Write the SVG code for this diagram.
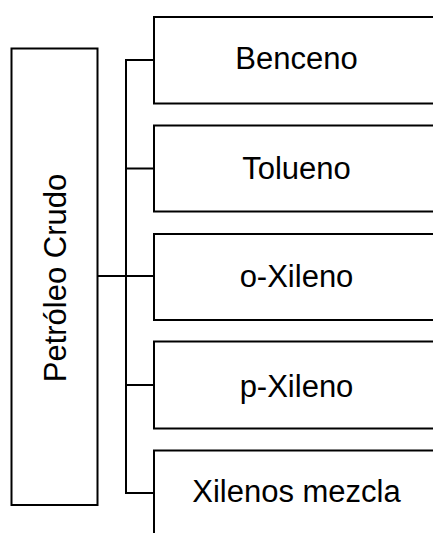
<svg xmlns="http://www.w3.org/2000/svg" width="433" height="533" viewBox="0 0 433 533">
  <style>
    .box { fill: #ffffff; stroke: #000000; stroke-width: 2; }
    .wire { fill: none; stroke: #000000; stroke-width: 2; }
    .label { font-family: "Liberation Sans", Arial, sans-serif; font-size: 31px; fill: #000000; text-anchor: middle; }
  </style>
  <rect width="433" height="533" fill="#ffffff"/>

  <!-- connectors -->
  <g id="connectors">
    <path class="wire" d="M97,276 H126"/>
    <path class="wire" d="M154,60 H126 V493 H154"/>
    <path class="wire" d="M126,168.5 H154"/>
    <path class="wire" d="M126,276 H154"/>
    <path class="wire" d="M126,385 H154"/>
  </g>

  <g id="petroleo-crudo">
    <rect class="box" x="11.5" y="48.5" width="86" height="456.5"/>
    <text class="label" transform="translate(66,278) rotate(-90)" x="0" y="0">Petróleo Crudo</text>
  </g>

  <g id="benceno">
    <rect class="box" x="154" y="17" width="290" height="86.5"/>
    <text class="label" x="296.5" y="68.5">Benceno</text>
  </g>

  <g id="tolueno">
    <rect class="box" x="154" y="125.5" width="290" height="86"/>
    <text class="label" x="296.5" y="179">Tolueno</text>
  </g>

  <g id="o-xileno">
    <rect class="box" x="154" y="234" width="290" height="86"/>
    <text class="label" x="296.5" y="286.5">o-Xileno</text>
  </g>

  <g id="p-xileno">
    <rect class="box" x="154" y="341.5" width="290" height="87"/>
    <text class="label" x="296.5" y="397">p-Xileno</text>
  </g>

  <g id="xilenos-mezcla">
    <rect class="box" x="154" y="450.5" width="290" height="100"/>
    <text class="label" x="296.5" y="502">Xilenos mezcla</text>
  </g>
</svg>
